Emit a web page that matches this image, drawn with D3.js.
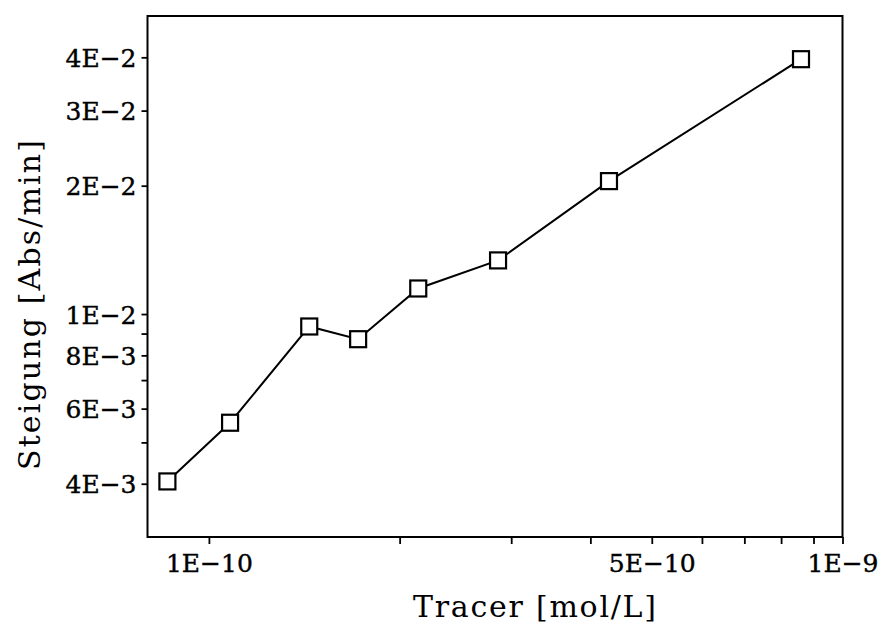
<!DOCTYPE html>
<html>
<head>
<meta charset="utf-8">
<script src="https://cdn.jsdelivr.net/npm/d3@7"></script>
<style>
  html, body { margin: 0; padding: 0; background: #fff; }
  svg { display: block; }
  text { font-family: "DejaVu Serif", "Liberation Serif", serif; fill: #000; }
</style>
</head>
<body>
<svg id="chart" width="881" height="627"></svg>
<script>
// ---- data ----
const tracer   = [8.6e-11, 1.08e-10, 1.44e-10, 1.72e-10, 2.14e-10, 2.86e-10, 4.28e-10, 8.6e-10];
const steigung = [4.05e-3, 5.56e-3, 9.35e-3, 8.73e-3, 1.148e-2, 1.336e-2, 2.05e-2, 3.96e-2];

const xTicks      = [1e-10, 2e-10, 3e-10, 4e-10, 5e-10, 6e-10, 7e-10, 8e-10, 9e-10, 1e-9];
const xTickLabels = ["1E\u221210", "", "", "", "5E\u221210", "", "", "", "", "1E\u22129"];
const yTicks      = [4e-3, 5e-3, 6e-3, 7e-3, 8e-3, 9e-3, 1e-2, 2e-2, 3e-2, 4e-2];
const yTickLabels = ["4E\u22123", "", "6E\u22123", "", "8E\u22123", "", "1E\u22122", "2E\u22122", "3E\u22122", "4E\u22122"];

const xTitle = "Tracer [mol/L]";
const yTitle = "Steigung [Abs/min]";

// ---- layout ----
const pLeft = 147.5, pRight = 842.5, pTop = 16, pBottom = 537;

const svg = d3.select("#chart");

const x = d3.scaleLog().domain([8e-11, 1e-9]).range([pLeft, pRight]);
const y = d3.scaleLog().domain([3e-3, 5e-2]).range([pBottom, pTop]);

// axes
const xAxis = d3.axisBottom(x)
  .tickValues(xTicks)
  .tickFormat((d, i) => xTickLabels[i])
  .tickSize(7).tickSizeOuter(0).tickPadding(6);
const yAxis = d3.axisLeft(y)
  .tickValues(yTicks)
  .tickFormat((d, i) => yTickLabels[i])
  .tickSize(6).tickSizeOuter(0).tickPadding(5);

const gx = svg.append("g").attr("transform", `translate(0,${pBottom})`).call(xAxis);
const gy = svg.append("g").attr("transform", `translate(${pLeft},0)`).call(yAxis);

[gx, gy].forEach(g => {
  g.select(".domain").remove();
  g.selectAll(".tick line").attr("stroke", "#000").attr("stroke-width", 1.8);
  g.selectAll(".tick text")
    .attr("font-family", "DejaVu Serif, Liberation Serif, serif")
    .attr("font-size", 25)
    .attr("fill", "#000")
    .attr("stroke", "#000")
    .attr("stroke-width", 0.4);
});
gx.selectAll(".tick text").attr("dy", "0.88em");
gy.selectAll(".tick text").attr("dy", "0.36em");

// frame
svg.append("rect")
  .attr("x", pLeft).attr("y", pTop)
  .attr("width", pRight - pLeft).attr("height", pBottom - pTop)
  .attr("fill", "none").attr("stroke", "#000").attr("stroke-width", 2);

// line
const pts = tracer.map((t, i) => [t, steigung[i]]);
svg.append("path")
  .datum(pts)
  .attr("fill", "none")
  .attr("stroke", "#000")
  .attr("stroke-width", 2)
  .attr("d", d3.line().x(d => x(d[0])).y(d => y(d[1])));

// markers
const ms = 16;
svg.append("g").selectAll("rect")
  .data(pts)
  .join("rect")
  .attr("x", d => x(d[0]) - ms / 2)
  .attr("y", d => y(d[1]) - ms / 2)
  .attr("width", ms).attr("height", ms)
  .attr("fill", "#fff")
  .attr("stroke", "#000")
  .attr("stroke-width", 2.2);

// titles
svg.append("text")
  .attr("x", 534.5).attr("y", 617)
  .attr("text-anchor", "middle")
  .attr("font-size", 30)
  .attr("textLength", 243)
  .attr("lengthAdjust", "spacing")
  .text(xTitle);

svg.append("text")
  .attr("transform", "translate(40,305) rotate(-90)")
  .attr("text-anchor", "middle")
  .attr("font-size", 30)
  .attr("textLength", 330)
  .attr("lengthAdjust", "spacing")
  .text(yTitle);
</script>
</body>
</html>
